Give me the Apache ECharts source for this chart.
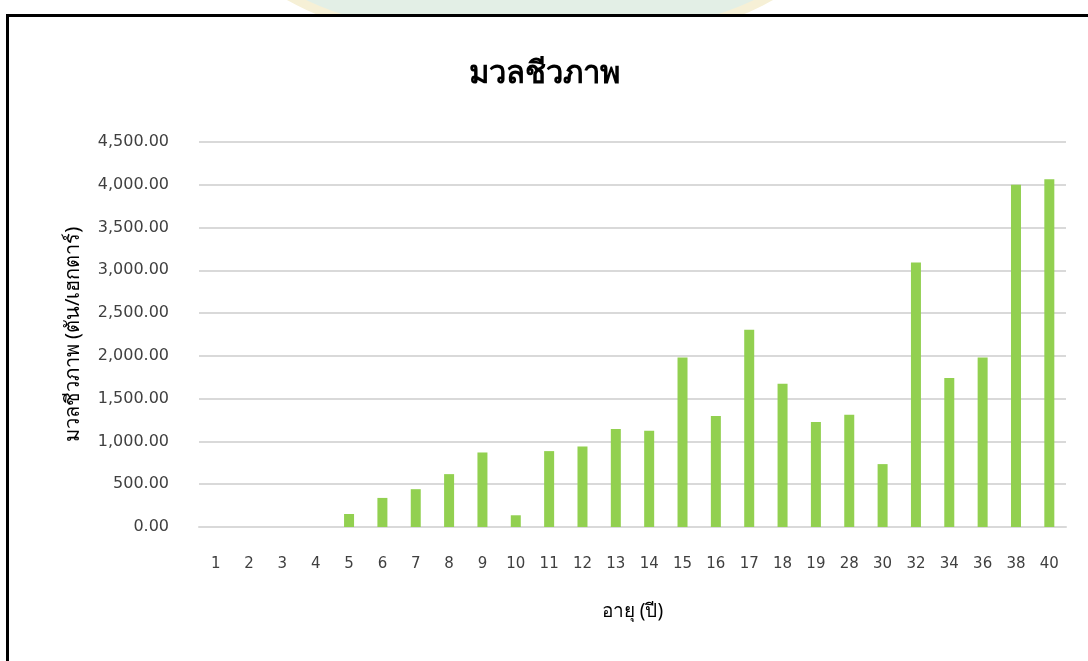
<!DOCTYPE html>
<html>
<head>
<meta charset="utf-8">
<title>มวลชีวภาพ</title>
<script src="https://cdn.jsdelivr.net/npm/echarts@6/dist/echarts.min.js"></script>
<style>
  html, body { margin: 0; padding: 0; background: #ffffff; }
  #page { position: relative; width: 1088px; height: 661px; overflow: hidden; background: #ffffff; }
  /* faint seal at the top edge of the page */
  #seal {
    position: absolute; left: 240px; top: -170px; width: 560px; height: 200px;
    border-radius: 50%; background: #e3efe6; border: 10px solid #f6f0d6;
  }
  #frame {
    position: absolute; left: 6px; top: 14px; width: 1100px; height: 700px;
    border-left: 3px solid #000; border-top: 3px solid #000; background: #ffffff;
  }
  #chart { position: absolute; left: 0; top: 0; width: 1088px; height: 661px; }
</style>
</head>
<body>
<div id="page">
  <div id="seal"></div>
  <div id="frame"></div>
  <div id="chart"></div>
</div>
<script>
// Stand age (years) and above-ground biomass (tonnes per hectare)
const ages = ['1','2','3','4','5','6','7','8','9','10','11','12','13','14','15','16','17','18','19','28','30','32','34','36','38','40'];
const biomass = [0, 0, 0, 0, 152, 340, 442, 618, 871, 137, 887, 941, 1145, 1125, 1981, 1298, 2306, 1673, 1227, 1313, 735, 3091, 1743, 1981, 4000, 4064];

const chartTitle = 'มวลชีวภาพ';
const xName = 'อายุ (ปี)';
const yName = 'มวลชีวภาพ (ตัน/เฮกตาร์)';

const thaiFont = '"Noto Sans", "DejaVu Sans", sans-serif';

function fmt(v) {
  return v.toLocaleString('en-US', { minimumFractionDigits: 2, maximumFractionDigits: 2 });
}

const chart = echarts.init(document.getElementById('chart'), null, { renderer: 'canvas' });
chart.setOption({
  backgroundColor: 'transparent',
  animation: false,
  title: {
    text: chartTitle,
    left: 'center',
    top: 54,
    textStyle: { fontFamily: thaiFont, fontSize: 31, fontWeight: 'bold', color: '#000000' }
  },
  grid: { left: 199, right: 22, top: 142, bottom: 134 },
  xAxis: {
    type: 'category',
    data: ages,
    name: xName,
    nameLocation: 'middle',
    nameGap: 75,
    nameTextStyle: { fontFamily: thaiFont, fontSize: 19, color: '#000000' },
    axisLine: { lineStyle: { color: '#d9d9d9', width: 2 } },
    axisTick: { show: false },
    axisLabel: { margin: 30, fontFamily: '"DejaVu Sans", sans-serif', fontSize: 15, color: '#404040' }
  },
  yAxis: {
    type: 'value',
    min: 0,
    max: 4500,
    interval: 500,
    name: yName,
    nameLocation: 'middle',
    nameGap: 116,
    nameRotate: 90,
    nameTextStyle: { fontFamily: thaiFont, fontSize: 20, color: '#000000' },
    axisLine: { show: false },
    axisTick: { show: false },
    splitLine: { lineStyle: { color: '#d9d9d9', width: 2 } },
    axisLabel: { margin: 30, fontFamily: '"DejaVu Sans", sans-serif', fontSize: 16, color: '#404040', formatter: fmt }
  },
  series: [{
    type: 'bar',
    data: biomass,
    barWidth: 10,
    itemStyle: { color: '#92d050' }
  }]
});
</script>
</body>
</html>
